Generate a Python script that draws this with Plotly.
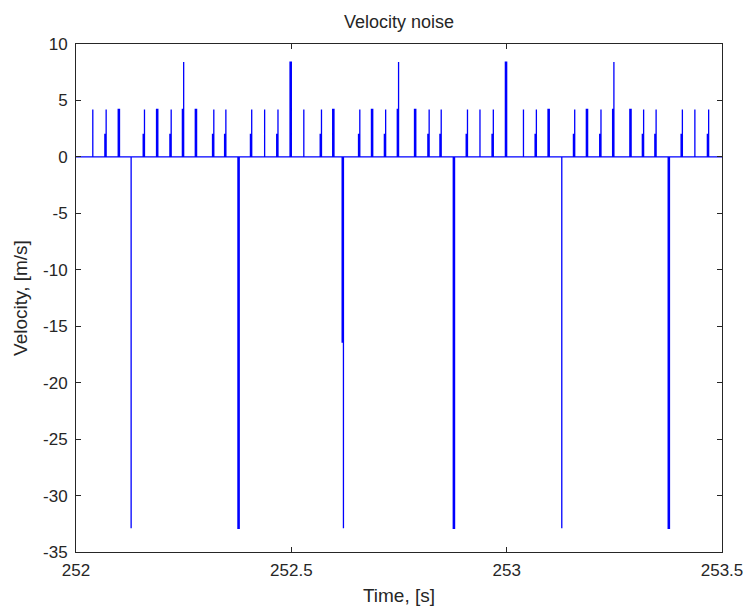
import plotly.graph_objects as go

# Sampling interval of the velocity signal [s]
sample_dt = 0.003
t_start = 252.0
t_end = 253.5

# Time of the first nonzero sample of each noise event [s]
spike_times = [
    252.039, 252.067, 252.098, 252.128, 252.156, 252.187, 252.218, 252.247,
    252.277, 252.317, 252.345, 252.376, 252.405, 252.438, 252.466, 252.497,
    252.529, 252.567, 252.596, 252.618, 252.656, 252.686, 252.716, 252.746,
    252.786, 252.817, 252.845, 252.876, 252.906, 252.938, 252.966, 252.997,
    253.039, 253.066, 253.096, 253.128, 253.155, 253.185, 253.216, 253.246,
    253.286, 253.315, 253.344, 253.375, 253.405, 253.437, 253.466,
]

# Consecutive nonzero sample values of each event [m/s]
spike_values = [
    [4.2], [2.0, 4.2], [4.2, 4.2], [-32.9], [2.0, 4.2], [4.2, 4.2], [2.0, 4.2], [4.2, 8.4],
    [4.2, 4.2], [2.0, 4.2], [2.0, 4.2], [-32.9, -32.9], [2.0, 4.2], [4.2], [2.0, 4.2], [8.4, 8.4],
    [4.2], [2.0, 4.2], [4.2, 4.2], [-16.4, -32.9], [2.0, 4.2], [4.2, 4.2], [2.0, 4.2], [4.2, 8.4],
    [4.2, 4.2], [2.0, 4.2], [2.0, 4.2], [-32.9, -32.9], [2.0, 4.2], [4.2], [2.0, 4.2], [8.4, 8.4],
    [4.2], [2.0, 4.2], [4.2, 4.2], [-32.9], [2.0, 4.2], [4.2, 4.2], [2.0, 4.2], [4.2, 8.4],
    [4.2, 4.2], [2.0, 4.2], [2.0, 4.2], [-32.9, -32.9], [2.0, 4.2], [4.2], [2.0, 4.2],
]

x_ticks = [252, 252.5, 253, 253.5]
x_tick_labels = ["252", "252.5", "253", "253.5"]
y_ticks = [10, 5, 0, -5, -10, -15, -20, -25, -30, -35]
y_tick_labels = ["10", "5", "0", "-5", "-10", "-15", "-20", "-25", "-30", "-35"]

# Build the sampled series (zero between events)
xs = [t_start]
ys = [0.0]
for t0, vals in zip(spike_times, spike_values):
    xs.append(t0)
    ys.append(0.0)
    for i, v in enumerate(vals):
        xs.append(t0 + i * sample_dt)
        ys.append(v)
    xs.append(t0 + (len(vals) - 1) * sample_dt)
    ys.append(0.0)
xs.append(t_end)
ys.append(0.0)

fig = go.Figure()
fig.add_trace(go.Scatter(
    x=xs, y=ys, mode="lines",
    line=dict(color="#0000ff", width=1.3, shape="hv"),
    showlegend=False, hoverinfo="skip",
))

font_family = "Liberation Sans, Arial, sans-serif"
axis_color = "#262626"

fig.update_layout(
    width=748, height=608,
    paper_bgcolor="white", plot_bgcolor="white",
    margin=dict(l=76, r=26, t=44, b=56),
    font=dict(family=font_family, size=17, color=axis_color),
    title=dict(text="Velocity noise", x=0.5, xanchor="center", xref="paper",
               y=1 - 22 / 608, yanchor="middle", font=dict(size=18, color=axis_color)),
)
fig.update_xaxes(
    range=[t_start, t_end], tickvals=x_ticks, ticktext=x_tick_labels,
    showline=True, linecolor=axis_color, linewidth=1, mirror="allticks",
    ticks="inside", ticklen=5, tickcolor=axis_color, showgrid=False, zeroline=False,
    ticklabelstandoff=3, automargin=False,
    title=dict(text="Time, [s]", standoff=9, font=dict(size=19)),
)
fig.update_yaxes(
    range=[-35, 10], tickvals=y_ticks, ticktext=y_tick_labels,
    showline=True, linecolor=axis_color, linewidth=1, mirror="allticks",
    ticks="inside", ticklen=5, tickcolor=axis_color, showgrid=False, zeroline=False,
    ticklabelstandoff=4, automargin=False,
    title=dict(text="Velocity, [m/s]", standoff=10, font=dict(size=19)),
)

fig.write_html("out.html")
